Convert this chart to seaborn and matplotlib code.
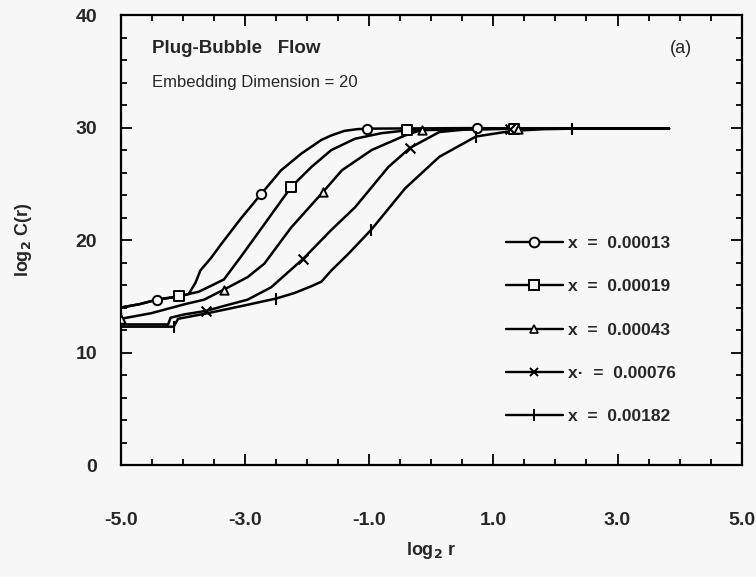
import numpy as np
import pandas as pd
import matplotlib
matplotlib.use("Agg")
import matplotlib.pyplot as plt
from matplotlib.lines import Line2D
from matplotlib.ticker import MultipleLocator, FormatStrFormatter
import seaborn as sns

# ---------------- data ----------------
labels = ["x  =  0.00013", "x  =  0.00019", "x  =  0.00043", "x·  =  0.00076", "x  =  0.00182"]

x_a = [-5.0, -4.7, -4.42, -4.06, -3.91, -3.80, -3.72, -3.55, -3.39, -3.07, -2.74, -2.42,
       -2.09, -1.77, -1.61, -1.40, -1.20, -1.04, 0.74, 1.33, 3.83]
y_a = [14.0, 14.3, 14.7, 15.0, 15.2, 16.2, 17.3, 18.4, 19.6, 21.9, 24.1, 26.2,
       27.7, 28.9, 29.3, 29.7, 29.85, 29.9, 29.95, 29.9, 29.9]

x_b = [-5.0, -4.7, -4.42, -4.06, -3.91, -3.75, -3.56, -3.34, -3.07, -2.69, -2.26, -1.93,
       -1.61, -1.23, -0.80, -0.39, 1.33, 3.83]
y_b = [14.0, 14.3, 14.7, 15.0, 15.2, 15.4, 15.9, 16.5, 18.5, 21.4, 24.7, 26.5,
       28.0, 29.0, 29.5, 29.75, 29.9, 29.9]

x_c = [-5.0, -4.51, -3.97, -3.66, -3.34, -2.96, -2.69, -2.26, -1.74, -1.44, -0.96, -0.42,
       -0.15, 1.40, 3.83]
y_c = [13.0, 13.5, 14.3, 14.7, 15.6, 16.7, 17.9, 21.1, 24.3, 26.2, 28.0, 29.3,
       29.8, 29.9, 29.9]

x_d = [-5.0, -4.24, -4.20, -3.97, -3.63, -3.30, -2.96, -2.58, -2.07, -1.61, -1.23, -0.69,
       -0.34, 0.13, 0.60, 1.27, 3.83]
y_d = [12.5, 12.5, 13.1, 13.4, 13.7, 14.2, 14.7, 15.8, 18.3, 20.9, 22.9, 26.5,
       28.2, 29.6, 29.85, 29.9, 29.9]

x_e = [-5.0, -4.15, -4.08, -3.60, -3.00, -2.50, -2.20, -1.93, -1.77, -1.61, -1.34, -0.97,
       -0.42, 0.13, 0.72, 1.30, 1.80, 2.27, 3.83]
y_e = [12.3, 12.3, 13.0, 13.5, 14.2, 14.8, 15.3, 15.9, 16.3, 17.3, 18.75, 20.9,
       24.6, 27.4, 29.2, 29.7, 29.85, 29.9, 29.9]

# marker positions
mx_a = [-4.42, -2.74, -1.04, 0.74]
my_a = [14.7, 24.1, 29.9, 29.95]
mx_b = [-4.06, -2.26, -0.39, 1.33]
my_b = [15.0, 24.7, 29.75, 29.9]
mx_c = [-5.0, -3.34, -1.74, -0.15, 1.40]
my_c = [13.0, 15.6, 24.3, 29.8, 29.9]
mx_d = [-3.63, -2.07, -0.34, 1.27]
my_d = [13.7, 18.3, 28.2, 29.9]
mx_e = [-4.15, -2.50, -0.97, 0.72, 2.27]
my_e = [12.3, 14.8, 20.9, 29.2, 29.9]

xticks = [-5.0, -3.0, -1.0, 1.0, 3.0, 5.0]
yticks = [0, 10, 20, 30, 40]

# ---------------- styling ----------------
sns.set_style("ticks")
bg = "#f7f7f7"
plt.rcParams["font.family"] = ["Liberation Sans", "DejaVu Sans"]
plt.rcParams["axes.unicode_minus"] = False

fig = plt.figure(figsize=(7.56, 5.77), dpi=100, facecolor=bg)
ax = fig.add_axes([0.160, 0.194, 0.821, 0.780])
ax.set_facecolor(bg)

curves = [(x_a, y_a), (x_b, y_b), (x_c, y_c), (x_d, y_d), (x_e, y_e)]
marks = [(mx_a, my_a), (mx_b, my_b), (mx_c, my_c), (mx_d, my_d), (mx_e, my_e)]
mstyles = [dict(marker="o", s=45, facecolor=bg, edgecolor="black", linewidth=1.4),
           dict(marker="s", s=42, facecolor=bg, edgecolor="black", linewidth=1.4),
           dict(marker="^", s=36, facecolor=bg, edgecolor="black", linewidth=1.4),
           dict(marker="x", s=50, color="black", linewidth=1.5),
           dict(marker="|", s=70, color="black", linewidth=1.5)]
leg_markers = [dict(marker="o", markersize=7, markerfacecolor=bg, markeredgecolor="black", markeredgewidth=1.4),
               dict(marker="s", markersize=6.5, markerfacecolor=bg, markeredgecolor="black", markeredgewidth=1.4),
               dict(marker="^", markersize=5.5, markerfacecolor=bg, markeredgecolor="black", markeredgewidth=1.2),
               dict(marker="x", markersize=6, markeredgecolor="black", markeredgewidth=1.4),
               dict(marker="|", markersize=9, markeredgecolor="black", markeredgewidth=1.4)]

for (cx, cy), (px, py), st in zip(curves, marks, mstyles):
    df = pd.DataFrame({"x": cx, "y": cy})
    sns.lineplot(data=df, x="x", y="y", ax=ax, color="black", linewidth=1.8,
                 sort=False, estimator=None)
    dm = pd.DataFrame({"x": px, "y": py})
    sns.scatterplot(data=dm, x="x", y="y", ax=ax, zorder=5, **st)

ax.set_xlim(-5, 5)
ax.set_ylim(0, 40)
ax.set_xticks(xticks)
ax.set_yticks(yticks)
ax.xaxis.set_major_formatter(FormatStrFormatter("%.1f"))
ax.xaxis.set_minor_locator(MultipleLocator(0.5))
ax.yaxis.set_minor_locator(MultipleLocator(2))
ax.tick_params(which="both", direction="in", top=True, right=True, width=1.3, color="black")
ax.tick_params(which="major", length=8, labelsize=14)
ax.tick_params(which="minor", length=4)
ax.tick_params(axis="x", which="major", pad=34)
ax.tick_params(axis="y", which="major", pad=17)
for lab in ax.get_xticklabels() + ax.get_yticklabels():
    lab.set_fontweight("bold")
for sp in ax.spines.values():
    sp.set_linewidth(1.6)
    sp.set_color("black")

ax.set_xlabel(r"log$_\mathbf{2}$ r", fontsize=13, fontweight="bold", labelpad=8)
ax.set_ylabel(r"log$_\mathbf{2}$ C(r)", fontsize=13, fontweight="bold", labelpad=30)

ax.text(0.05, 0.925, "Plug-Bubble   Flow", transform=ax.transAxes, fontsize=13.5,
        fontweight="bold", va="center", ha="left")
ax.text(0.05, 0.85, "Embedding Dimension = 20", transform=ax.transAxes, fontsize=12,
        va="center", ha="left")
ax.text(0.885, 0.925, "(a)", transform=ax.transAxes, fontsize=13, va="center", ha="left")

handles = [Line2D([0], [0], color="black", linewidth=1.7, **lm) for lm in leg_markers]
leg = ax.legend(handles, labels, loc="upper left", bbox_to_anchor=(0.62, 0.51),
                frameon=False, handlelength=3.3, handletextpad=0.3, labelspacing=1.63,
                borderpad=0, borderaxespad=0, prop={"weight": "bold", "size": 12.5})

fig.savefig("out.png", dpi=100, facecolor=bg)
